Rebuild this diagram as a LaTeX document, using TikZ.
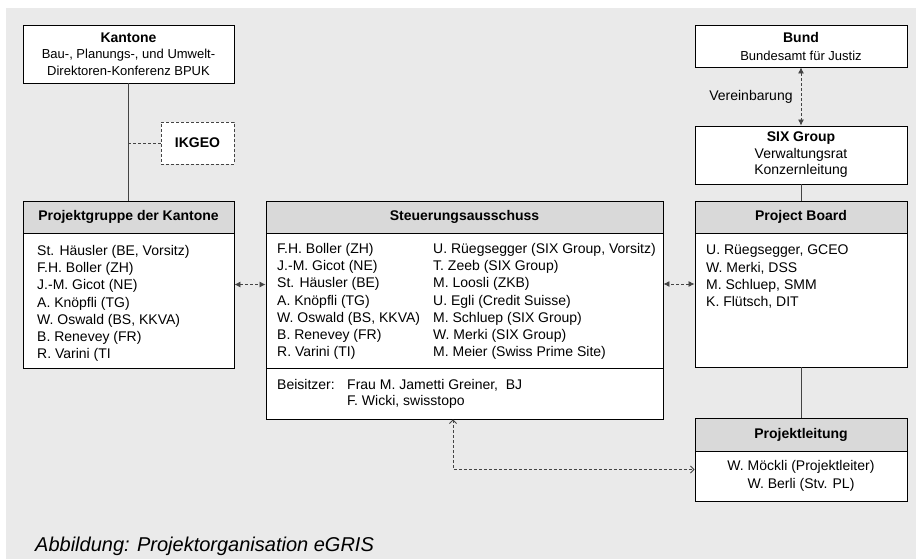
\documentclass[tikz,border=0pt]{standalone}
\usepackage{fontspec}
\setmainfont{Liberation Sans}
\usetikzlibrary{positioning, arrows.meta}
\definecolor{bggray}{HTML}{EAEAEA}
\definecolor{headgray}{HTML}{D9D9D9}
\definecolor{linkgray}{HTML}{444444}

\begin{document}
\begin{tikzpicture}[x=1pt, y=-1pt,
    every node/.style={inner sep=0pt, font=\fontsize{14}{17.3}\selectfont},
    orgbox/.style={draw=black, fill=white, line width=0.9pt, minimum width=212pt, align=center},
    headbox/.style={draw=black, fill=headgray, line width=0.9pt, minimum height=32pt,
      font=\fontsize{14}{17}\selectfont\bfseries},
    names/.style={align=left, anchor=north west},
    link/.style={draw=linkgray, line width=0.9pt},
    dashlink/.style={draw=linkgray, line width=0.8pt, dash pattern=on 3pt off 2pt},
    both/.style={dashlink, {Latex[length=6pt,width=6pt]}-{Latex[length=6pt,width=6pt]}},
    openboth/.style={dashlink, {Straight Barb[length=3.5pt,width=7pt]}-{Straight Barb[length=3.5pt,width=7pt]}}]
  \useasboundingbox (0,0) rectangle (916,559);
  \fill[bggray] (6,8) rectangle (916,559);

  % Kantone
  \node[orgbox, minimum width=211pt, minimum height=58pt, font=\fontsize{13}{16.5}\selectfont]
    (kantone) at (128.5,54)
    {{\fontsize{14}{16.5}\selectfont\bfseries Kantone}\\Bau-, Planungs-, und Umwelt-\\Direktoren-Konferenz BPUK};
  \node[draw, dashlink, fill=white, minimum width=73pt, minimum height=42pt,
    font=\fontsize{14}{17}\selectfont\bfseries] (ikgeo) at (197.5,143) {IKGEO};

  % Bund, SIX Group
  \node[orgbox, minimum height=42pt, font=\fontsize{13}{18}\selectfont] (bund) at (801,46)
    {{\fontsize{14}{18}\selectfont\bfseries Bund}\\Bundesamt für Justiz};
  \node[orgbox, minimum height=58pt, font=\fontsize{14}{16.5}\selectfont] (six) at (801,155)
    {{\bfseries SIX Group}\\Verwaltungsrat\\Konzernleitung};

  % Projektgruppe der Kantone
  \node[orgbox, minimum width=211pt, minimum height=167pt] (pg) at (128.5,284.5) {};
  \node[headbox, minimum width=211pt, below=0pt of pg.north] (pgHead) {Projektgruppe der Kantone};
  \node[names] (pgNames) at (37,244.8)
    {St. Häusler (BE, Vorsitz)\\F.H. Boller (ZH)\\J.-M. Gicot (NE)\\A. Knöpfli (TG)\\W. Oswald (BS, KKVA)\\B. Renevey (FR)\\R. Varini (TI};

  % Steuerungsausschuss
  \node[orgbox, minimum width=397pt, minimum height=218pt] (sa) at (464.5,310) {};
  \node[headbox, minimum width=397pt, below=0pt of sa.north] (saHead) {Steuerungsausschuss};
  \node[orgbox, minimum width=397pt, minimum height=51pt, above=0pt of sa.south] (saBeis) {};
  \node[names] (saLeft) at (277,242.8)
    {F.H. Boller (ZH)\\J.-M. Gicot (NE)\\St. Häusler (BE)\\A. Knöpfli (TG)\\W. Oswald (BS, KKVA)\\B. Renevey (FR)\\R. Varini (TI)};
  \node[names] (saRight) at (433,242.8)
    {U. Rüegsegger (SIX Group, Vorsitz)\\T. Zeeb (SIX Group)\\M. Loosli (ZKB)\\U. Egli (Credit Suisse)\\M. Schluep (SIX Group)\\W. Merki (SIX Group)\\M. Meier (Swiss Prime Site)};
  \node[names] (beisLabel) at (277,378.8) {Beisitzer:};
  \node[names, font=\fontsize{14}{16}\selectfont] (beisNames) at (347,378.8)
    {Frau M. Jametti Greiner,~ BJ\\F. Wicki, swisstopo};

  % Project Board
  \node[orgbox, minimum height=166pt] (pb) at (801,284) {};
  \node[headbox, minimum width=212pt, below=0pt of pb.north] (pbHead) {Project Board};
  \node[names] (pbNames) at (706,244.8)
    {U. Rüegsegger, GCEO\\W. Merki, DSS\\M. Schluep, SMM\\K. Flütsch, DIT};

  % Projektleitung
  \node[orgbox, minimum height=83pt] (pl) at (801,459.5) {};
  \node[headbox, minimum width=212pt, minimum height=33pt, below=0pt of pl.north] (plHead) {Projektleitung};
  \node[align=center, below=9pt of plHead.south] (plNames)
    {W. Möckli (Projektleiter)\\W. Berli (Stv. PL)};

  % connectors
  \draw[link] (kantone) -- (pgHead);
  \draw[dashlink] (ikgeo.west) -- (ikgeo.west -| kantone.south);
  \draw[both] (bund) -- node[left=8pt] (vereinb) {Vereinbarung} (six);
  \draw[link] (six) -- (pbHead);
  \draw[link] (pb) -- (plHead);
  \draw[both] (pg.east) -- (pg.east -| sa.west);
  \draw[both] (pb.west) -- (pb.west -| sa.east);
  \draw[openboth] ([xshift=-11.5pt]sa.south) |- ([yshift=-10pt]pl.west);

  % caption
  \node[anchor=base west, font=\fontsize{20}{24}\selectfont\itshape] (caption) at (35,551)
    {Abbildung: Projektorganisation eGRIS};
\end{tikzpicture}
\end{document}
